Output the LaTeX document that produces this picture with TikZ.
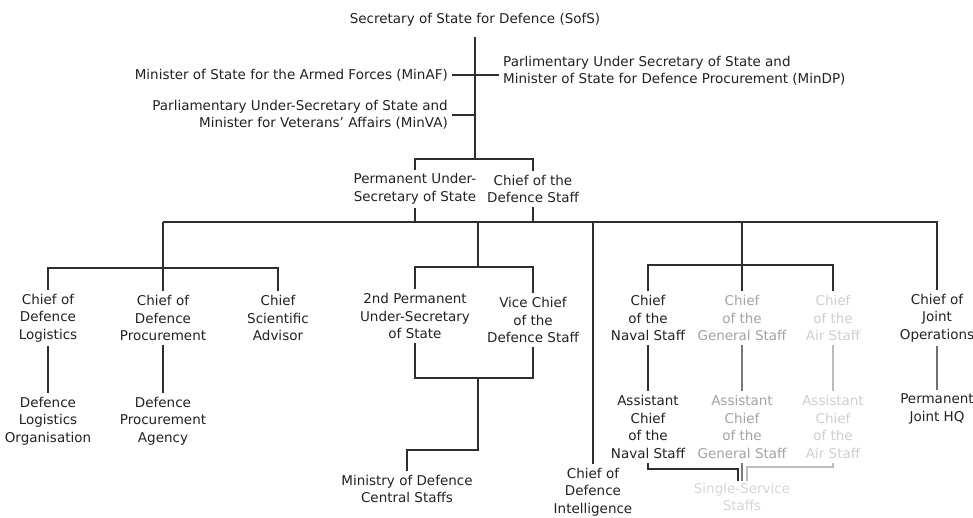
\documentclass[tikz,border=0pt]{standalone}
\usepackage{fontspec}
\setmainfont{DejaVu Sans}
\definecolor{txt}{HTML}{222222}
\definecolor{lnc}{HTML}{2E2E2E}
\definecolor{gentxt}{HTML}{A3A3A3}
\definecolor{genln}{HTML}{7A7A7A}
\definecolor{airtxt}{HTML}{CFCFCF}
\definecolor{airln}{HTML}{BDBDBD}
\definecolor{ssstxt}{HTML}{D6D6D6}
\definecolor{pjln}{HTML}{707070}
\tikzset{
  lbl/.style={inner sep=4pt, text=txt, align=center, font=\fontsize{13.5}{17.5}\selectfont},
  genlbl/.style={lbl, text=gentxt},
  airlbl/.style={lbl, text=airtxt},
  ssslbl/.style={lbl, text=ssstxt, inner ysep=2pt},
  ln/.style={draw=lnc, line width=2.1pt},
  genline/.style={draw=genln, line width=1.8pt},
  airline/.style={draw=airln, line width=1.8pt},
  pjline/.style={draw=pjln, line width=1.8pt}
}
\begin{document}
\begin{tikzpicture}[x=1pt,y=-1pt]
\useasboundingbox[fill=white] (0,0) rectangle (973,517);
% top
\node[lbl] (sofs) at (475,20) {Secretary of State for Defence (SofS)};
\node[lbl, anchor=east, align=right] (minaf) at (452,75) {Minister of State for the Armed Forces (MinAF)};
\node[lbl, anchor=east, align=right] (minva) at (452,115) {Parliamentary Under-Secretary of State and\\Minister for Veterans' Affairs (MinVA)};
\node[lbl, anchor=west, align=left] (mindp) at (499,71) {Parlimentary Under Secretary of State and\\Minister of State for Defence Procurement (MinDP)};
\node[lbl] (pus) at (415,189) {Permanent Under-\\Secretary of State};
\node[lbl] (cds) at (533,189) {Chief of the\\Defence Staff};
% second level
\node[lbl] (cdl) at (48,318) {Chief of\\Defence\\Logistics};
\node[lbl] (cdp) at (163,318) {Chief of\\Defence\\Procurement};
\node[lbl] (csa) at (278,318) {Chief\\Scientific\\Advisor};
\node[lbl] (dlo) at (48,421) {Defence\\Logistics\\Organisation};
\node[lbl] (dpa) at (163,421) {Defence\\Procurement\\Agency};
\node[lbl] (pus2) at (415,316) {2nd Permanent\\Under-Secretary\\of State};
\node[lbl] (vcds) at (533,320) {Vice Chief\\of the\\Defence Staff};
\node[lbl] (mcs) at (407,489) {Ministry of Defence\\Central Staffs};
\node[lbl] (cdi) at (593,492) {Chief of\\Defence\\Intelligence};
\node[lbl] (cns) at (648,318) {Chief\\of the\\Naval Staff};
\node[genlbl] (cgs) at (742,318) {Chief\\of the\\General Staff};
\node[airlbl] (cas) at (833,318) {Chief\\of the\\Air Staff};
\node[lbl] (cjo) at (937,318) {Chief of\\Joint\\Operations};
\node[lbl] (acns) at (648,427) {Assistant\\Chief\\of the\\Naval Staff};
\node[genlbl] (acgs) at (742,427) {Assistant\\Chief\\of the\\General Staff};
\node[airlbl] (acas) at (833,427) {Assistant\\Chief\\of the\\Air Staff};
\node[lbl] (pjhq) at (937,409) {Permanent\\Joint HQ};
\node[ssslbl] (sss) at (742,497) {Single-Service\\Staffs};
% junction coordinates
\coordinate (j1) at (475,159);
\coordinate (bar) at (0,222);
\coordinate (lbar) at (0,268);
\coordinate (mbar) at (0,267);
\coordinate (rbar) at (0,265);
\coordinate (jm) at (478,378);
\coordinate (jc) at (478,450);
% top connectors
\draw[ln, shorten <=6pt] (sofs.south) -- (j1);
\draw[ln] (minaf.east) -- (minaf.east -| mindp.west);
\draw[ln] (minva.east) -- (minva.east -| j1);
\draw[ln] (pus.north) -- (pus.north |- j1) -- (cds.north |- j1) -- (cds.north);
% main bar
\draw[ln] (pus.south) -- (pus.south |- bar);
\draw[ln] (cds.south) -- (cds.south |- bar);
\draw[ln] (cdp.north |- bar) -- (cjo.north |- bar) -- (cjo.north);
\draw[ln] (cdp.north |- bar) -- (cdp.north);
\draw[ln] (cdl.north) -- (cdl.north |- lbar) -- (csa.north |- lbar) -- (csa.north);
\draw[ln] (cdl.south) -- (dlo.north);
\draw[ln] (cdp.south) -- (dpa.north);
% centre
\draw[ln] (jm |- bar) -- (jm |- mbar);
\draw[ln] (pus2.north) -- (pus2.north |- mbar) -- (vcds.north |- mbar) -- (vcds.north);
\draw[ln] (pus2.south) -- (pus2.south |- jm) -- (vcds.south |- jm) -- (vcds.south);
\draw[ln] (jm) -- (jc) -| (mcs.north);
% intelligence
\draw[ln] (cdi.north |- bar) -- (cdi.north);
% services
\draw[ln] (cgs.north |- bar) -- (cgs.north);
\draw[ln] (cns.north) -- (cns.north |- rbar) -- (cas.north |- rbar) -- (cas.north);
\draw[ln] (cns.south) -- (acns.north);
\draw[genline] (cgs.south) -- (acgs.north);
\draw[airline] (cas.south) -- (acas.north);
\draw[pjline] (cjo.south) -- (pjhq.north);
% single-service staffs
\draw[airline] (acas.south) -- ++(0,4) -| ([xshift=5pt]sss.north);
\draw[genline] (acgs.south) -- (sss.north);
\draw[ln] (acns.south) -- ++(0,6) -| ([xshift=-4pt]sss.north);
\end{tikzpicture}
\end{document}
